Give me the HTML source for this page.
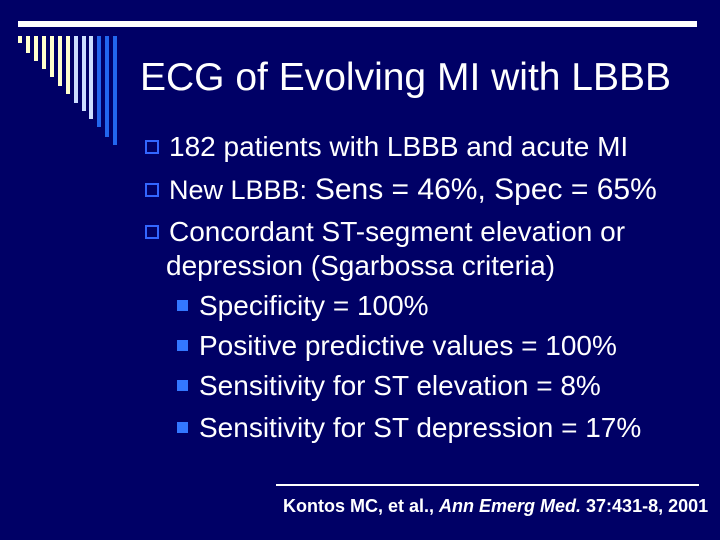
<!DOCTYPE html>
<html><head><meta charset="utf-8"><style>
html,body{margin:0;padding:0}
body{width:720px;height:540px;background:#000066;position:relative;overflow:hidden;font-family:"Liberation Sans",Arial,sans-serif;color:#fff}
.a{position:absolute;white-space:nowrap}
.t{font-size:39px;left:140px;top:56px}
.b{font-size:28px;left:145px}
.box{display:inline-block;width:14px;height:14px;border:2px solid #3366ff;box-sizing:border-box;margin-right:10px;vertical-align:2px}
.s{font-size:28px;left:177px}
.sq{display:inline-block;width:11px;height:11px;background:#3377ff;margin-right:11px;vertical-align:4px}
.stripe{position:absolute;width:4px;top:36px}
</style></head><body>
<div class="a" style="left:18px;top:21px;width:679px;height:6px;background:#fff"></div>
<div id="stripes"></div>
<div class="a t">ECG of Evolving MI with LBBB</div>
<div class="a b" style="top:131px"><span class="box"></span>182 patients with LBBB and acute MI</div>
<div class="a b" style="top:173px"><span class="box"></span><span style="font-size:27px">New LBBB:</span> <span style="font-size:30px">Sens = 46%, Spec = 65%</span></div>
<div class="a b" style="top:216px"><span class="box"></span>Concordant ST-segment elevation or</div>
<div class="a b" style="top:250px;left:166px">depression (Sgarbossa criteria)</div>
<div class="a s" style="top:290px"><span class="sq"></span>Specificity = 100%</div>
<div class="a s" style="top:330px"><span class="sq"></span>Positive predictive values = 100%</div>
<div class="a s" style="top:370px"><span class="sq"></span>Sensitivity for ST elevation = 8%</div>
<div class="a s" style="top:412px"><span class="sq"></span>Sensitivity for ST depression = 17%</div>
<div class="a" style="left:276px;top:484px;width:423px;height:2px;background:#fff"></div>
<div class="a" style="left:283px;top:496px;font-size:18px;font-weight:bold">Kontos MC, et al., <i>Ann Emerg Med.</i> 37:431-8, 2001</div>
<script>
var xs=[18,26,34,42,50,58,66,74,82,89,97,105,113];
var ends=[43,53,61,69,77,86,94,103,111,119,127,137,145];
var cols=['#ffffcc','#ffffcc','#ffffcc','#ffffcc','#ffffcc','#ffffcc','#ffffcc','#ccddff','#ccddff','#ccddff','#2266ee','#2266ee','#2266ee'];
var c=document.getElementById('stripes');
for(var i=0;i<xs.length;i++){
 var d=document.createElement('div');
 d.className='stripe';
 
 
 d.style.left=xs[i]+'px';d.style.height=(ends[i]-36)+'px';d.style.background=cols[i];
 c.appendChild(d);
}
</script>
</body></html>
